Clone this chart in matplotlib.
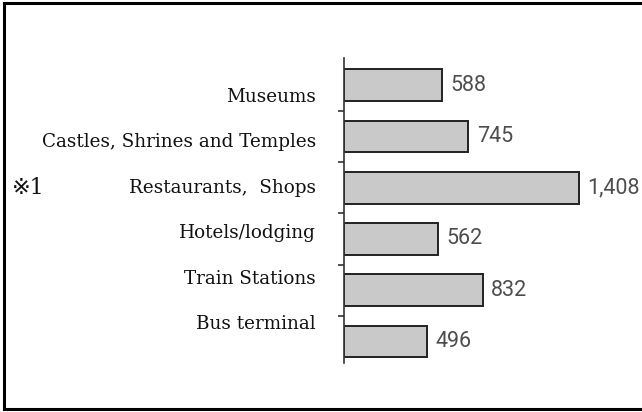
import numpy as np
import matplotlib
matplotlib.use("Agg")
import matplotlib.pyplot as plt
from matplotlib.lines import Line2D

# data
categories = ["Museums", "Castles, Shrines and Temples", "Restaurants,  Shops",
              "Hotels/lodging", "Train Stations", "Bus terminal"]
counts = [588, 745, 1408, 562, 832, 496]
value_labels = ["588", "745", "1,408", "562", "832", "496"]
note_text = "\u203b1"
note_row = 2

W, H, DPI = 642, 412, 100
fig = plt.figure(figsize=(W / DPI, H / DPI), dpi=DPI)

# outer frame: left, top, bottom (right edge runs off the picture)
for xs, ys in [([4, 4], [3, 409]), ([4, 660], [3, 3]), ([4, 660], [409, 409])]:
    fig.add_artist(Line2D([x / W for x in xs], [1 - v / H for v in ys],
                          transform=fig.transFigure, color="black", linewidth=2.2))

ax = fig.add_axes([344 / W, 49 / H, 290 / W, 305 / H])
y = np.arange(len(categories))
ax.barh(y, counts, height=0.62, color="#c9c9c9", edgecolor="#222222", linewidth=1.4)

ax.set_xlim(0, 290 / 0.1669)
ax.set_ylim(len(categories) - 0.58, -0.53)

for s in ["top", "right", "bottom"]:
    ax.spines[s].set_visible(False)
ax.spines["left"].set_color("#333333")
ax.spines["left"].set_linewidth(1.2)
ax.set_xticks([])
ax.set_yticks(y[:-1] + 0.5)
ax.set_yticklabels([])
ax.tick_params(axis="y", length=4, width=1.2, color="#333333")

for yi, v, lab in zip(y, counts, value_labels):
    ax.annotate(lab, (v, yi), xytext=(6, 0), textcoords="offset points",
                va="center", ha="left", fontsize=15.5, family="Roboto",
                color="#4d4d4d")

# category labels sit on their own, slightly tighter spacing than the bars
for i, cat in enumerate(categories):
    fig.text(316 / W, 1 - (97 + i * 45.4) / H, cat, family="DejaVu Serif",
             fontsize=13.2, va="center", ha="right", color="#111111")

fig.text(12 / W, 1 - (97 + note_row * 45.4) / H, note_text,
         family=["DejaVu Serif", "DejaVu Sans", "Noto Sans CJK JP"],
         fontsize=16, va="center", ha="left", color="#111111")

fig.savefig("out.png", dpi=DPI, facecolor="white")
